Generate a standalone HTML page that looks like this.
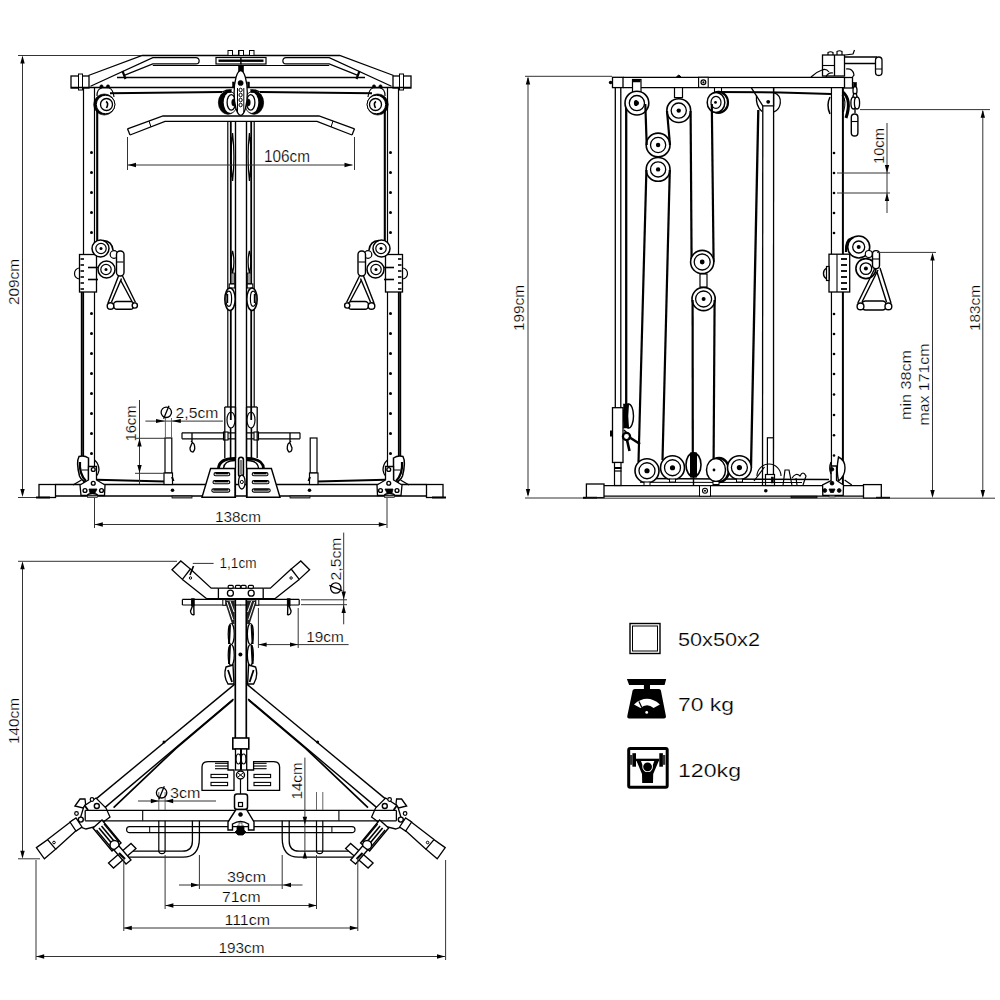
<!DOCTYPE html>
<html><head><meta charset="utf-8"><style>
html,body{margin:0;padding:0;background:#fff;}
svg{display:block;font-family:"Liberation Sans",sans-serif;}
</style></head><body>
<svg width="1000" height="1000" viewBox="0 0 1000 1000">
<rect x="0" y="0" width="1000" height="1000" fill="#fff"/>
<line x1="22.5" y1="57" x2="22.5" y2="495" stroke="#333" stroke-width="1" />
<polygon points="22.50,55.50 24.70,63.50 20.30,63.50" fill="#000"/>
<polygon points="22.50,497.00 20.30,489.00 24.70,489.00" fill="#000"/>
<line x1="18" y1="55.5" x2="142" y2="55.5" stroke="#333" stroke-width="1" />
<line x1="18" y1="497.5" x2="40" y2="497.5" stroke="#333" stroke-width="1" />
<text x="19" y="282" font-size="15.5" text-anchor="middle" fill="#000" stroke="#fff" stroke-width="0.22" textLength="46" lengthAdjust="spacingAndGlyphs" transform="rotate(-90 19 282)">209cm</text>
<g id="fh">
<rect x="71" y="76" width="18" height="12" rx="0" fill="#fff" stroke="#000" stroke-width="1.3"/>
<rect x="78.5" y="74" width="4" height="16" rx="0" fill="#fff" stroke="#000" stroke-width="1.0"/>
<line x1="117" y1="77.5" x2="241" y2="77.5" stroke="#000" stroke-width="1.3" />
<line x1="71" y1="87.5" x2="241" y2="87.5" stroke="#000" stroke-width="1.3" />
<path d="M88.4,75.5 L142.3,55.5 L241,55.5" fill="none" stroke="#000" stroke-width="1.3" />
<path d="M90.5,86.3 L152.8,57.6 L196,57.6 A3.15,3.15 0 0 1 196,63.9 L152.8,63.9 L124.8,75.1" fill="none" stroke="#000" stroke-width="1.2" />
<line x1="152.8" y1="65.5" x2="241" y2="65.5" stroke="#000" stroke-width="1.2" />
<line x1="122.5" y1="71" x2="125.5" y2="79" stroke="#000" stroke-width="2.2" />
<rect x="216" y="57.5" width="25" height="6.5" rx="0" fill="#fff" stroke="#000" stroke-width="1.2"/>
<line x1="218.5" y1="60.7" x2="241" y2="60.7" stroke="#000" stroke-width="2.4" />
<rect x="228" y="50.5" width="4.5" height="5" rx="0" fill="#fff" stroke="#000" stroke-width="1.0"/>
<rect x="238.5" y="50.5" width="4.5" height="5" rx="0" fill="#fff" stroke="#000" stroke-width="1.0"/>
<line x1="83.5" y1="88" x2="83.5" y2="485" stroke="#000" stroke-width="1.2" />
<line x1="94.5" y1="88" x2="94.5" y2="485" stroke="#000" stroke-width="1.2" />
<circle cx="91.5" cy="152.5" r="1.5" fill="#000"/>
<circle cx="91.5" cy="172.5" r="1.5" fill="#000"/>
<circle cx="91.5" cy="192.5" r="1.5" fill="#000"/>
<circle cx="91.5" cy="212.5" r="1.5" fill="#000"/>
<circle cx="91.5" cy="232.5" r="1.5" fill="#000"/>
<circle cx="91.5" cy="313.5" r="1.5" fill="#000"/>
<circle cx="91.5" cy="333.5" r="1.5" fill="#000"/>
<circle cx="91.5" cy="353.5" r="1.5" fill="#000"/>
<circle cx="91.5" cy="373.5" r="1.5" fill="#000"/>
<circle cx="91.5" cy="393.5" r="1.5" fill="#000"/>
<circle cx="91.5" cy="413.5" r="1.5" fill="#000"/>
<circle cx="91.5" cy="433.5" r="1.5" fill="#000"/>
<circle cx="91.5" cy="453.5" r="1.5" fill="#000"/>
<line x1="97.2" y1="104" x2="97.2" y2="255" stroke="#000" stroke-width="2.1" />
<line x1="81.8" y1="292" x2="81.8" y2="470" stroke="#000" stroke-width="2.0" />
<path d="M97,96 Q97,88.5 102,88 L109,88 Q113,89 114,97" fill="#fff" stroke="#000" stroke-width="1.2" />
<circle cx="101.5" cy="86.3" r="1.6" fill="#000" stroke="#000" stroke-width="0.5"/>
<circle cx="108" cy="86.3" r="1.6" fill="#000" stroke="#000" stroke-width="0.5"/>
<circle cx="104.3" cy="104.5" r="10.6" fill="#000" stroke="#000" stroke-width="0.6"/>
<circle cx="105.6" cy="104.5" r="9.3" fill="#fff" stroke="#000" stroke-width="0"/>
<circle cx="105.6" cy="104.5" r="9.3" fill="none" stroke="#000" stroke-width="1.0"/>
<circle cx="106.5" cy="104.5" r="6" fill="#fff" stroke="#000" stroke-width="1.3"/>
<path d="M106,101.5 Q109,103 106.5,108" fill="none" stroke="#000" stroke-width="1.6" />
<path d="M110,93.3 Q180,92.5 222,92" fill="none" stroke="#000" stroke-width="2.0" />
<rect x="79.5" y="254.5" width="17" height="37.5" rx="0" fill="#fff" stroke="#000" stroke-width="1.3"/>
<line x1="80.5" y1="259" x2="84" y2="259" stroke="#000" stroke-width="1.6" />
<line x1="80.5" y1="265" x2="84" y2="265" stroke="#000" stroke-width="1.6" />
<line x1="80.5" y1="271" x2="84" y2="271" stroke="#000" stroke-width="1.6" />
<line x1="80.5" y1="277" x2="84" y2="277" stroke="#000" stroke-width="1.6" />
<line x1="80.5" y1="283" x2="84" y2="283" stroke="#000" stroke-width="1.6" />
<line x1="80.5" y1="289" x2="84" y2="289" stroke="#000" stroke-width="1.6" />
<path d="M79.5,268 A5,5.5 0 0 0 79.5,279" fill="none" stroke="#000" stroke-width="1.2" />
<line x1="88" y1="267.5" x2="98" y2="267.5" stroke="#000" stroke-width="1.6" />
<line x1="88" y1="279.5" x2="98" y2="279.5" stroke="#000" stroke-width="1.6" />
<circle cx="100.5" cy="248.5" r="8.5" fill="#fff" stroke="#000" stroke-width="1.5"/>
<circle cx="101" cy="248.5" r="5.2" fill="#fff" stroke="#000" stroke-width="1.2"/>
<circle cx="101" cy="248.5" r="1.5" fill="#000"/>
<path d="M103,240.5 Q112,241 113,250" fill="none" stroke="#000" stroke-width="1.6" />
<circle cx="106.5" cy="269.5" r="8.5" fill="#fff" stroke="#000" stroke-width="1.5"/>
<circle cx="106" cy="269.5" r="5.2" fill="#fff" stroke="#000" stroke-width="1.2"/>
<circle cx="106" cy="269.5" r="1.5" fill="#000"/>
<circle cx="114" cy="254.5" r="3.8" fill="#fff" stroke="#000" stroke-width="1.2"/>
<rect x="116.5" y="251" width="7.5" height="25" rx="3.5" fill="#fff" stroke="#000" stroke-width="1.4"/>
<line x1="117" y1="262" x2="123.5" y2="262" stroke="#000" stroke-width="1.1" />
<path d="M118.5,276 L108,303 M121.5,278.5 L111.5,302" fill="none" stroke="#000" stroke-width="1.4" />
<path d="M122.5,276 L135.5,302.5 M120.5,280 L132,301.5" fill="none" stroke="#000" stroke-width="1.4" />
<rect x="113.5" y="301.5" width="20.5" height="7.8" rx="3.5" fill="#fff" stroke="#000" stroke-width="1.4"/>
<circle cx="110.5" cy="306" r="3.3" fill="#fff" stroke="#000" stroke-width="1.4"/>
<circle cx="134.8" cy="305.5" r="2.6" fill="#fff" stroke="#000" stroke-width="1.4"/>
<rect x="39" y="484.5" width="16.5" height="13" rx="0" fill="#fff" stroke="#000" stroke-width="1.3"/>
<line x1="36" y1="497.5" x2="50" y2="497.5" stroke="#000" stroke-width="2.0" />
<line x1="55.5" y1="484.5" x2="241" y2="484.5" stroke="#000" stroke-width="1.3" />
<line x1="55.5" y1="496" x2="241" y2="496" stroke="#000" stroke-width="1.3" />
<path d="M79,456.5 Q76,462 79.5,476 Q82,482 88.5,482.5 L88.5,458 Q84,455 79,456.5 Z" fill="#fff" stroke="#000" stroke-width="1.5" />
<path d="M80,462 Q79,474 86,481" fill="none" stroke="#000" stroke-width="2.2" />
<path d="M94.5,460 Q99,464 99,470 Q98,476 94.5,477" fill="none" stroke="#000" stroke-width="1.3" />
<line x1="81.5" y1="470" x2="88" y2="470" stroke="#000" stroke-width="1.0" />
<path d="M73,485 L81.5,480" fill="none" stroke="#000" stroke-width="1.3" />
<line x1="96.5" y1="479.7" x2="165" y2="481.5" stroke="#000" stroke-width="2.0" />
<path d="M88.5,466.5 L96.5,466.5 L96.5,480 L105,485 L104.5,495.5 L98,495.5 Q96.5,493.5 92.5,493.5 Q88.5,493.5 87,495.5 L81,495.5 L80,485 L88.5,480 Z" fill="#fff" stroke="#000" stroke-width="1.3" />
<circle cx="93.25" cy="469.5" r="1.9" fill="#fff" stroke="#000" stroke-width="1.4"/>
<circle cx="93.25" cy="483.25" r="1.9" fill="#fff" stroke="#000" stroke-width="1.4"/>
<circle cx="85" cy="490.5" r="1.9" fill="#fff" stroke="#000" stroke-width="1.4"/>
<circle cx="101.5" cy="490.5" r="1.9" fill="#fff" stroke="#000" stroke-width="1.4"/>
<path d="M89,489 L97,489 L95,493 L90,493 Z" fill="#000" stroke="#000" stroke-width="0.8" />
<rect x="87.5" y="495.5" width="10" height="2" rx="0" fill="#999" stroke="#000" stroke-width="0.6"/>
<rect x="165" y="438" width="6.8" height="35" rx="0" fill="#fff" stroke="#000" stroke-width="1.2"/>
<rect x="164" y="473" width="8.5" height="11.5" rx="0" fill="#fff" stroke="#000" stroke-width="1.2"/>
<line x1="172" y1="477" x2="173.5" y2="481" stroke="#000" stroke-width="2" />
<circle cx="172.5" cy="490.3" r="1.8" fill="#000"/>
<rect x="172" y="496" width="20" height="2" rx="0" fill="#888" stroke="#000" stroke-width="0.8"/>
<line x1="182" y1="432.8" x2="236" y2="432.8" stroke="#000" stroke-width="1.2" />
<line x1="182" y1="438.8" x2="236" y2="438.8" stroke="#000" stroke-width="1.2" />
<line x1="182" y1="432.8" x2="182" y2="438.8" stroke="#000" stroke-width="1.2" />
<rect x="223.5" y="432" width="4.5" height="8" rx="0" fill="#fff" stroke="#000" stroke-width="1.1"/>
<path d="M192,433 L192,442 M191,441 L194,444 Q196,449 193,452 Q190,452 190,448 L192,443" fill="none" stroke="#000" stroke-width="1.3" />
<path d="M218.5,468.5 Q219,458.5 235,458.5" fill="none" stroke="#000" stroke-width="2.8" />
<path d="M223.5,468.5 Q224,460.5 235,460.5" fill="none" stroke="#000" stroke-width="1.3" />
<line x1="230.6" y1="420" x2="230.6" y2="460" stroke="#000" stroke-width="1.6" />
<path d="M202,497.3 L210.6,468.5 L235,468.5 L235,497.3 Z" fill="#fff" stroke="#000" stroke-width="1.4" />
<rect x="214" y="472.59999999999997" width="15.800000000000011" height="3.2" rx="1.6" fill="#fff" stroke="#000" stroke-width="1.1"/>
<line x1="215.5" y1="473.59999999999997" x2="228.3" y2="473.59999999999997" stroke="#000" stroke-width="1.5" />
<rect x="213" y="480.59999999999997" width="16.80000000000001" height="3.2" rx="1.6" fill="#fff" stroke="#000" stroke-width="1.1"/>
<line x1="214.5" y1="481.59999999999997" x2="228.3" y2="481.59999999999997" stroke="#000" stroke-width="1.5" />
<rect x="211.8" y="488.9" width="18.0" height="3.2" rx="1.6" fill="#fff" stroke="#000" stroke-width="1.1"/>
<line x1="213.3" y1="489.9" x2="228.3" y2="489.9" stroke="#000" stroke-width="1.5" />
<line x1="224.8" y1="407" x2="224.8" y2="458" stroke="#000" stroke-width="1.3" />
<line x1="235.5" y1="407" x2="235.5" y2="458" stroke="#000" stroke-width="1.3" />
<line x1="224.8" y1="407" x2="235.5" y2="407" stroke="#000" stroke-width="1.3" />
<ellipse cx="231" cy="420" rx="4" ry="8" fill="#fff" stroke="#000" stroke-width="1.2"/>
<line x1="227.8" y1="121" x2="227.8" y2="407" stroke="#000" stroke-width="1.2" />
<line x1="230.8" y1="121" x2="230.8" y2="420" stroke="#000" stroke-width="1.8" />
<line x1="235.5" y1="121" x2="235.5" y2="468" stroke="#000" stroke-width="1.2" />
<path d="M232.6,133 Q229.6,157.0 232.6,181 Q235.2,157.0 232.6,133 Z" fill="#fff" stroke="#000" stroke-width="1.2" />
<line x1="231" y1="137" x2="231" y2="177" stroke="#000" stroke-width="1.6" />
<path d="M232.6,251 Q229.6,262.0 232.6,273 Q235.2,262.0 232.6,251 Z" fill="#fff" stroke="#000" stroke-width="1.2" />
<line x1="231" y1="255" x2="231" y2="269" stroke="#000" stroke-width="1.6" />
<rect x="231" y="273" width="3.5" height="10.5" rx="0" fill="#999" stroke="#000" stroke-width="0.8"/>
<rect x="229.2" y="284" width="5.6" height="4" rx="0" fill="#fff" stroke="#000" stroke-width="1.1"/>
<ellipse cx="230" cy="299.2" rx="5.2" ry="11.2" fill="#fff" stroke="#000" stroke-width="1.5"/>
<ellipse cx="228.8" cy="298.8" rx="2.8" ry="7.6" fill="#fff" stroke="#000" stroke-width="1.2"/>
<line x1="227.6" y1="294" x2="227.6" y2="303" stroke="#000" stroke-width="1.2" />
<path d="M127.5,128.8 L163,116 L241,116" fill="none" stroke="#000" stroke-width="1.3" />
<path d="M130,135 L165,121.3 L241,121.3" fill="none" stroke="#000" stroke-width="1.3" />
<line x1="127.5" y1="128.8" x2="130" y2="135" stroke="#000" stroke-width="1.3" />
<line x1="149" y1="121" x2="151" y2="127" stroke="#000" stroke-width="1.0" />
<line x1="127.5" y1="137" x2="127.5" y2="170" stroke="#333" stroke-width="1" />
<ellipse cx="228" cy="102.6" rx="9.6" ry="11.7" fill="#000" stroke="#000" stroke-width="0.8"/>
<ellipse cx="230.3" cy="102.6" rx="6.6" ry="10.3" fill="#fff" stroke="none" stroke-width="0"/>
<ellipse cx="231.3" cy="102.4" rx="4.2" ry="7.8" fill="#fff" stroke="#000" stroke-width="1.3"/>
<ellipse cx="233.6" cy="102.5" rx="1.9" ry="3.5" fill="#000" stroke="#000" stroke-width="0.5"/>
<rect x="226" y="90" width="5" height="2.6" rx="0" fill="#000" stroke="#000" stroke-width="0.5"/>
<rect x="232.5" y="82" width="2" height="5" rx="0" fill="#000" stroke="#000" stroke-width="0.5"/>
<path d="M222,92 Q228,89 232,90" fill="none" stroke="#000" stroke-width="1.2" />
</g>
<use href="#fh" transform="translate(482,0) scale(-1,1)"/>
<rect x="238.4" y="65.5" width="5.2" height="10.5" rx="0" fill="#000" stroke="#000" stroke-width="0.5"/>
<ellipse cx="240.7" cy="93" rx="6.6" ry="22.3" fill="#fff" stroke="#000" stroke-width="1.3"/>
<circle cx="240.6" cy="83" r="2.6" fill="#000" stroke="#000" stroke-width="0.6"/>
<path d="M237.5,88 L237.5,112 M243.8,88 L243.8,112" fill="none" stroke="#000" stroke-width="1.0" />
<ellipse cx="240.6" cy="90" rx="1.6" ry="1.8" fill="#fff" stroke="#000" stroke-width="1.0"/>
<ellipse cx="240.6" cy="95" rx="1.6" ry="1.8" fill="#fff" stroke="#000" stroke-width="1.0"/>
<ellipse cx="240.6" cy="100" rx="1.6" ry="1.8" fill="#fff" stroke="#000" stroke-width="1.0"/>
<ellipse cx="240.6" cy="105" rx="1.6" ry="1.8" fill="#fff" stroke="#000" stroke-width="1.0"/>
<line x1="128" y1="165" x2="352.5" y2="165" stroke="#333" stroke-width="1" />
<polygon points="128.00,165.00 136.00,162.80 136.00,167.20" fill="#000"/>
<polygon points="352.50,165.00 344.50,167.20 344.50,162.80" fill="#000"/>
<text x="287" y="162" font-size="16" text-anchor="middle" fill="#000" stroke="#fff" stroke-width="0.22" textLength="46" lengthAdjust="spacingAndGlyphs">106cm</text>
<line x1="94.5" y1="498" x2="94.5" y2="528" stroke="#333" stroke-width="1" />
<line x1="387" y1="498" x2="387" y2="528" stroke="#333" stroke-width="1" />
<line x1="95" y1="524.5" x2="386.5" y2="524.5" stroke="#333" stroke-width="1" />
<polygon points="94.80,524.50 102.80,522.30 102.80,526.70" fill="#000"/>
<polygon points="386.80,524.50 378.80,526.70 378.80,522.30" fill="#000"/>
<text x="238" y="522" font-size="15.5" text-anchor="middle" fill="#000" stroke="#fff" stroke-width="0.22" textLength="46" lengthAdjust="spacingAndGlyphs">138cm</text>
<line x1="139.5" y1="400" x2="139.5" y2="484" stroke="#333" stroke-width="1" />
<polygon points="139.50,438.50 141.70,446.50 137.30,446.50" fill="#000"/>
<polygon points="139.50,473.00 137.30,465.00 141.70,465.00" fill="#000"/>
<line x1="135" y1="438.3" x2="165" y2="438.3" stroke="#333" stroke-width="1" />
<line x1="135" y1="473.3" x2="165" y2="473.3" stroke="#333" stroke-width="1" />
<text x="136" y="423.5" font-size="15.5" text-anchor="middle" fill="#000" stroke="#fff" stroke-width="0.22" textLength="36" lengthAdjust="spacingAndGlyphs" transform="rotate(-90 136 423.5)">16cm</text>
<line x1="145.4" y1="421.1" x2="222.9" y2="421.1" stroke="#333" stroke-width="1" />
<polygon points="165.00,421.10 156.00,423.10 156.00,419.10" fill="#000"/>
<polygon points="171.80,421.10 180.80,419.10 180.80,423.10" fill="#000"/>
<line x1="165.4" y1="418" x2="165.4" y2="438" stroke="#555" stroke-width="0.9" />
<line x1="171.5" y1="418" x2="171.5" y2="438" stroke="#555" stroke-width="0.9" />
<g><circle cx="166.3" cy="412.3" r="5.2" fill="none" stroke="#000" stroke-width="1.3"/><line x1="163.60000000000002" y1="418.8" x2="169.0" y2="405.8" stroke="#000" stroke-width="1.3"/></g>
<text x="175.6" y="417.5" font-size="15.5" text-anchor="start" fill="#000" stroke="#fff" stroke-width="0.22" textLength="42.8" lengthAdjust="spacingAndGlyphs">2,5cm</text>
<line x1="235.5" y1="122" x2="235.5" y2="498" stroke="#000" stroke-width="1.2" />
<line x1="246.5" y1="122" x2="246.5" y2="498" stroke="#000" stroke-width="1.2" />
<rect x="238.6" y="457.2" width="4.8" height="19.5" rx="2.4" fill="#fff" stroke="#000" stroke-width="1.6"/>
<line x1="241" y1="460" x2="241" y2="474" stroke="#000" stroke-width="1.0" />
<ellipse cx="241.8" cy="482" rx="3.3" ry="7" fill="#fff" stroke="#000" stroke-width="1.3"/>
<circle cx="241.8" cy="482" r="1.6" fill="#fff" stroke="#000" stroke-width="1.0"/>
<line x1="528" y1="78" x2="528" y2="495" stroke="#333" stroke-width="1" />
<polygon points="528.00,76.50 530.20,84.50 525.80,84.50" fill="#000"/>
<polygon points="528.00,497.00 525.80,489.00 530.20,489.00" fill="#000"/>
<line x1="525" y1="76.3" x2="612" y2="76.3" stroke="#333" stroke-width="1" />
<line x1="525" y1="498" x2="586" y2="498" stroke="#333" stroke-width="1" />
<text x="524" y="308" font-size="15.5" text-anchor="middle" fill="#000" stroke="#fff" stroke-width="0.22" textLength="46" lengthAdjust="spacingAndGlyphs" transform="rotate(-90 524 308)">199cm</text>
<rect x="612.5" y="77.3" width="10.5" height="10.3" rx="0" fill="#fff" stroke="#000" stroke-width="1.3"/>
<line x1="623" y1="77.3" x2="844.5" y2="77.3" stroke="#000" stroke-width="1.3" />
<line x1="623" y1="87.6" x2="844.5" y2="87.6" stroke="#000" stroke-width="1.3" />
<rect x="844.5" y="77.5" width="8" height="10.5" rx="0" fill="#fff" stroke="#000" stroke-width="1.3"/>
<circle cx="610.6" cy="82.5" r="1.8" fill="#000"/>
<rect x="698.6" y="77.3" width="9.6" height="10.1" rx="0" fill="#fff" stroke="#000" stroke-width="1.1"/>
<circle cx="703.4" cy="82.3" r="2.4" fill="#fff" stroke="#000" stroke-width="1.2"/>
<circle cx="703.4" cy="82.3" r="1.1" fill="#000"/>
<path d="M676.5,77.3 Q678.75,73 681,77.3 Z" fill="#000" stroke="#000" stroke-width="1.0" />
<line x1="615.3" y1="87.6" x2="615.3" y2="408" stroke="#000" stroke-width="1.3" />
<line x1="620.8" y1="87.6" x2="620.8" y2="408" stroke="#000" stroke-width="1.3" />
<line x1="626.2" y1="104" x2="626.2" y2="405" stroke="#000" stroke-width="2.3" />
<rect x="612.5" y="407.7" width="10.5" height="54.8" rx="0" fill="#fff" stroke="#000" stroke-width="1.3"/>
<rect x="614.5" y="462.5" width="6.5" height="23" rx="0" fill="#fff" stroke="#000" stroke-width="1.2"/>
<line x1="614" y1="468" x2="621.5" y2="468" stroke="#000" stroke-width="2.0" />
<line x1="614" y1="471" x2="621.5" y2="471" stroke="#000" stroke-width="1.2" />
<rect x="610.5" y="431" width="2" height="5" rx="0" fill="#000" stroke="#000" stroke-width="1"/>
<rect x="632.5" y="79.5" width="8.5" height="13" rx="0" fill="#fff" stroke="#000" stroke-width="1.2"/>
<path d="M633,81 L640.5,81" fill="none" stroke="#000" stroke-width="2.5" />
<circle cx="636.9" cy="103.1" r="11.9" fill="#fff" stroke="#000" stroke-width="1.6"/>
<circle cx="636.9" cy="103.1" r="7.6" fill="#fff" stroke="#000" stroke-width="1.3"/>
<circle cx="636.9" cy="103.1" r="2.2" fill="#000"/>
<ellipse cx="636" cy="103" rx="1.5" ry="2.5" fill="#000" stroke="#000" stroke-width="1.2"/>
<rect x="674.5" y="87.6" width="8" height="10" rx="0" fill="#fff" stroke="#000" stroke-width="1.2"/>
<circle cx="678.75" cy="110.6" r="11.9" fill="#fff" stroke="#000" stroke-width="1.6"/>
<circle cx="678.75" cy="110.6" r="7.6" fill="#fff" stroke="#000" stroke-width="1.3"/>
<circle cx="678.75" cy="110.6" r="2.2" fill="#000"/>
<circle cx="658.1" cy="145" r="11.9" fill="#fff" stroke="#000" stroke-width="1.6"/>
<circle cx="658.1" cy="145" r="7.6" fill="#fff" stroke="#000" stroke-width="1.3"/>
<circle cx="658.1" cy="145" r="2.2" fill="#000"/>
<circle cx="658.1" cy="169.4" r="11.9" fill="#fff" stroke="#000" stroke-width="1.6"/>
<circle cx="658.1" cy="169.4" r="7.6" fill="#fff" stroke="#000" stroke-width="1.3"/>
<circle cx="658.1" cy="169.4" r="2.2" fill="#000"/>
<rect x="714.5" y="87.6" width="7" height="5" rx="0" fill="#fff" stroke="#000" stroke-width="1.1"/>
<ellipse cx="718.5" cy="102.4" rx="9.5" ry="10.5" fill="#fff" stroke="#000" stroke-width="2.2"/>
<ellipse cx="716" cy="102.4" rx="8.8" ry="10" fill="#fff" stroke="#000" stroke-width="1.5"/>
<ellipse cx="716" cy="102.4" rx="5" ry="6" fill="#fff" stroke="#000" stroke-width="1.2"/>
<circle cx="715.5" cy="102.4" r="1.4" fill="#000"/>
<path d="M716,92 Q780,92 831,94" fill="none" stroke="#000" stroke-width="2.0" />
<path d="M645.3,104 L646.7,145" fill="none" stroke="#000" stroke-width="2.2" />
<path d="M670,145 L667,111" fill="none" stroke="#000" stroke-width="2.2" />
<path d="M690.6,111 L691.6,262" fill="none" stroke="#000" stroke-width="2.2" />
<path d="M646.4,170 L638.5,462" fill="none" stroke="#000" stroke-width="2.2" />
<path d="M669.8,170 L662.5,460" fill="none" stroke="#000" stroke-width="2.2" />
<path d="M711.8,104 L713.6,262" fill="none" stroke="#000" stroke-width="2.2" />
<circle cx="702.2" cy="262" r="11.6" fill="#fff" stroke="#000" stroke-width="1.6"/>
<circle cx="702.2" cy="262" r="8" fill="#fff" stroke="#000" stroke-width="1.3"/>
<circle cx="702.2" cy="262" r="2.4" fill="#000"/>
<circle cx="703.6" cy="299" r="11.6" fill="#fff" stroke="#000" stroke-width="1.6"/>
<circle cx="703.6" cy="299" r="8" fill="#fff" stroke="#000" stroke-width="1.3"/>
<circle cx="703.6" cy="299" r="2.0" fill="#000"/>
<rect x="700" y="274" width="7" height="13" rx="0" fill="#fff" stroke="#000" stroke-width="1.2"/>
<path d="M692.6,300 L692.8,455" fill="none" stroke="#000" stroke-width="2.2" />
<path d="M714.6,300 L713.6,460" fill="none" stroke="#000" stroke-width="2.2" />
<path d="M751.4,87.8 L762.8,105.8 L773.6,105.8 L773.6,88" fill="none" stroke="#000" stroke-width="1.3" />
<path d="M756.5,95.5 Q755.5,106 762,111.5" fill="none" stroke="#000" stroke-width="1.3" />
<path d="M774,92.6 Q781,95 780.3,103 Q779.5,110 774,111.8" fill="none" stroke="#000" stroke-width="1.3" />
<circle cx="768.2" cy="101.8" r="1.9" fill="#000"/>
<line x1="762.8" y1="105.8" x2="762.5" y2="485.7" stroke="#000" stroke-width="1.3" />
<line x1="773.6" y1="88" x2="773.5" y2="485.7" stroke="#000" stroke-width="1.3" />
<path d="M758.3,110 L751,468" fill="none" stroke="#000" stroke-width="2.3" />
<rect x="767.4" y="437.8" width="6" height="37" rx="0" fill="#fff" stroke="#000" stroke-width="1.2"/>
<rect x="765.5" y="474.5" width="9" height="11" rx="0" fill="#fff" stroke="#000" stroke-width="1.2"/>
<path d="M757,476 A12,12 0 0 1 781,476" fill="none" stroke="#000" stroke-width="1.1" />
<path d="M783,485.5 L785,470 L789,470 L792,485.5 M792,478 Q796,472 800,476 Q803,470 806,476 L803,485 M797,485 L796,478" fill="none" stroke="#000" stroke-width="1.2" />
<rect x="771.2" y="477" width="2.2" height="6" rx="0" fill="#000" stroke="#000" stroke-width="0.5"/>
<line x1="831.45" y1="88" x2="831.45" y2="485.7" stroke="#000" stroke-width="1.2" />
<line x1="842.9" y1="88" x2="842.9" y2="485.7" stroke="#000" stroke-width="2.0" />
<circle cx="834" cy="153" r="1.3" fill="#000"/>
<circle cx="834" cy="173" r="1.3" fill="#000"/>
<circle cx="834" cy="193" r="1.3" fill="#000"/>
<circle cx="834" cy="213" r="1.3" fill="#000"/>
<circle cx="834" cy="233" r="1.3" fill="#000"/>
<circle cx="834" cy="314" r="1.3" fill="#000"/>
<circle cx="834" cy="334" r="1.3" fill="#000"/>
<circle cx="834" cy="354" r="1.3" fill="#000"/>
<circle cx="834" cy="374" r="1.3" fill="#000"/>
<circle cx="834" cy="394.5" r="1.3" fill="#000"/>
<circle cx="834" cy="415" r="1.3" fill="#000"/>
<circle cx="834" cy="435.3" r="1.3" fill="#000"/>
<circle cx="834" cy="455.5" r="1.3" fill="#000"/>
<path d="M830,97 Q826,105 830,114" fill="none" stroke="#000" stroke-width="1.5" />
<path d="M843,92 Q852,100 846,118" fill="none" stroke="#000" stroke-width="3.0" />
<path d="M842,95 Q847,100 843.5,112" fill="none" stroke="#000" stroke-width="1.1" />
<rect x="822.5" y="55" width="22" height="21" rx="0" fill="#fff" stroke="#000" stroke-width="1.3"/>
<line x1="834.5" y1="55" x2="834.5" y2="76" stroke="#000" stroke-width="1.3" />
<line x1="822.5" y1="65.5" x2="834.5" y2="65.5" stroke="#000" stroke-width="1.1" />
<path d="M828,55 L828,52.5 Q830.5,51 833,52.5 L833,55 M837,55 L837,51.5 Q839.5,50 842,51.5 L842,55" fill="none" stroke="#000" stroke-width="1.2" />
<path d="M844.5,57 L877,57 M844.5,63.5 L876,63.5" fill="none" stroke="#000" stroke-width="1.3" />
<rect x="875.5" y="57" width="6.5" height="18.5" rx="3.2" fill="#fff" stroke="#000" stroke-width="1.3"/>
<line x1="875.5" y1="69" x2="882" y2="69" stroke="#000" stroke-width="1.0" />
<path d="M845,55 L853,54 L854.5,50" fill="none" stroke="#000" stroke-width="1.2" />
<path d="M811,77 Q816,72 822,70 Q826,68 829,72 M826,77 Q828,72 833,73" fill="none" stroke="#000" stroke-width="1.2" />
<path d="M846,69 Q853,68 854,75 L852.5,77" fill="none" stroke="#000" stroke-width="1.2" />
<rect x="853.5" y="82.5" width="3" height="4" rx="0" fill="#000" stroke="#000" stroke-width="0.6"/>
<ellipse cx="855" cy="90.5" rx="2" ry="4" fill="#fff" stroke="#000" stroke-width="1.3"/>
<ellipse cx="855" cy="97.5" rx="2" ry="4" fill="#fff" stroke="#000" stroke-width="1.3"/>
<ellipse cx="853.5" cy="103" rx="2.6" ry="6" fill="#fff" stroke="#000" stroke-width="1.3"/>
<ellipse cx="857" cy="103" rx="2.6" ry="6" fill="#fff" stroke="#000" stroke-width="1.3"/>
<path d="M855,109 L855,113" fill="none" stroke="#000" stroke-width="1.4" />
<rect x="851.3" y="114" width="6.6" height="22" rx="3.3" fill="#fff" stroke="#000" stroke-width="1.4"/>
<line x1="851.3" y1="121.5" x2="857.9" y2="121.5" stroke="#000" stroke-width="1.1" />
<rect x="829" y="254.2" width="20.7" height="37.8" rx="0" fill="#fff" stroke="#000" stroke-width="1.3"/>
<line x1="841" y1="259" x2="847" y2="259" stroke="#000" stroke-width="1.8" />
<line x1="841" y1="265" x2="847" y2="265" stroke="#000" stroke-width="1.8" />
<line x1="841" y1="271" x2="847" y2="271" stroke="#000" stroke-width="1.8" />
<line x1="841" y1="277" x2="847" y2="277" stroke="#000" stroke-width="1.8" />
<line x1="841" y1="283" x2="847" y2="283" stroke="#000" stroke-width="1.8" />
<line x1="841" y1="289" x2="847" y2="289" stroke="#000" stroke-width="1.8" />
<line x1="837" y1="254.2" x2="837" y2="292" stroke="#000" stroke-width="1.1" />
<path d="M829,268.5 L826,268.5 Q823.5,270 823.5,273.5 Q823.5,277 826,278.5 L829,278.5 Z" fill="#fff" stroke="#000" stroke-width="1.4" />
<rect x="826.5" y="266.5" width="2.5" height="14" rx="0" fill="#fff" stroke="#000" stroke-width="1.2"/>
<circle cx="858.7" cy="247" r="11" fill="#fff" stroke="#000" stroke-width="1.6"/>
<circle cx="858.7" cy="247" r="6" fill="#fff" stroke="#000" stroke-width="1.3"/>
<circle cx="858.7" cy="247" r="2.0" fill="#000"/>
<path d="M853,237.5 Q845,240 846,252" fill="none" stroke="#000" stroke-width="2.2" />
<circle cx="865.9" cy="268.6" r="10" fill="#fff" stroke="#000" stroke-width="1.6"/>
<circle cx="865.9" cy="268.6" r="5.8" fill="#fff" stroke="#000" stroke-width="1.3"/>
<circle cx="865.9" cy="268.6" r="2.0" fill="#000"/>
<circle cx="868.8" cy="254" r="3.5" fill="#fff" stroke="#000" stroke-width="1.1"/>
<rect x="872.5" y="250.6" width="7" height="18" rx="3.3" fill="#fff" stroke="#000" stroke-width="1.4"/>
<line x1="873" y1="259" x2="879" y2="259" stroke="#000" stroke-width="1.1" />
<path d="M875,268 L857.8,303 M878,270 L862,302" fill="none" stroke="#000" stroke-width="1.4" />
<path d="M880,268 L891,303 M877,272 L886.5,302" fill="none" stroke="#000" stroke-width="1.4" />
<rect x="862" y="301" width="24" height="9" rx="3.5" fill="#fff" stroke="#000" stroke-width="1.4"/>
<circle cx="860.5" cy="306.4" r="3.4" fill="#fff" stroke="#000" stroke-width="1.4"/>
<circle cx="888.4" cy="306.4" r="3.4" fill="#fff" stroke="#000" stroke-width="1.4"/>
<rect x="586.4" y="484" width="17.6" height="13.6" rx="0" fill="#fff" stroke="#000" stroke-width="1.3"/>
<line x1="583" y1="497.8" x2="597" y2="497.8" stroke="#000" stroke-width="2" />
<line x1="604" y1="485.7" x2="863.5" y2="485.7" stroke="#000" stroke-width="1.3" />
<line x1="604" y1="496.2" x2="863.5" y2="496.2" stroke="#000" stroke-width="1.3" />
<rect x="863.5" y="484.6" width="17.8" height="13.6" rx="0" fill="#fff" stroke="#000" stroke-width="1.3"/>
<line x1="876" y1="497.8" x2="890" y2="497.8" stroke="#000" stroke-width="2" />
<line x1="586" y1="498.2" x2="995" y2="498.2" stroke="#333" stroke-width="1" />
<line x1="640" y1="478.6" x2="829" y2="479.6" stroke="#000" stroke-width="1.5" />
<line x1="640" y1="482.3" x2="802" y2="482.5" stroke="#000" stroke-width="1.0" />
<path d="M754,481 L764.5,467" fill="none" stroke="#000" stroke-width="1.2" />
<rect x="699.5" y="485.7" width="11" height="10.5" rx="0" fill="#fff" stroke="#000" stroke-width="1.0"/>
<circle cx="705" cy="490.8" r="2.5" fill="#fff" stroke="#000" stroke-width="1.1"/>
<circle cx="705" cy="490.8" r="1" fill="#000"/>
<circle cx="765.8" cy="490.8" r="1.8" fill="#000"/>
<rect x="791" y="496.2" width="26" height="1.6" rx="0" fill="#333" stroke="#000" stroke-width="0.8"/>
<path d="M838.5,457 Q836,470 838.5,481 Q845,476 845,468 Q845,460 838.5,457 Z" fill="#fff" stroke="#000" stroke-width="1.4" />
<path d="M831.1,466 L836.5,466 L836.5,480.5 L843.5,485 L843.2,495.4 L822.8,495.4 L822.6,485 L831.1,480.5 Z" fill="#fff" stroke="#000" stroke-width="1.3" />
<circle cx="832" cy="469.3" r="1.8" fill="#000" stroke="#000" stroke-width="0.8"/>
<circle cx="824.8" cy="490.5" r="1.9" fill="#000" stroke="#000" stroke-width="0.8"/>
<circle cx="839.2" cy="490.5" r="1.9" fill="#000" stroke="#000" stroke-width="0.8"/>
<circle cx="832" cy="483.2" r="1.9" fill="#000" stroke="#000" stroke-width="0.8"/>
<path d="M829,489 L835,489 L833.5,492.5 L830.5,492.5 Z" fill="#000" stroke="#000" stroke-width="0.8" />
<rect x="829" y="495.4" width="6" height="1.6" rx="0" fill="#999" stroke="#000" stroke-width="0.5"/>
<path d="M844.6,480 L851.8,485" fill="none" stroke="#000" stroke-width="1.3" />
<path d="M831,462 Q828.5,468 831,474" fill="none" stroke="#000" stroke-width="1.3" />
<circle cx="647" cy="470.75" r="12" fill="#fff" stroke="#000" stroke-width="1.6"/>
<circle cx="647" cy="470.75" r="8" fill="#fff" stroke="#000" stroke-width="1.3"/>
<circle cx="647" cy="470.75" r="2.6" fill="#000"/>
<rect x="644" y="482" width="6" height="3.5" rx="0" fill="#fff" stroke="#000" stroke-width="1.0"/>
<circle cx="672.5" cy="467.75" r="12" fill="#fff" stroke="#000" stroke-width="1.6"/>
<circle cx="672.5" cy="467.75" r="8" fill="#fff" stroke="#000" stroke-width="1.3"/>
<circle cx="672.5" cy="467.75" r="2.6" fill="#000"/>
<rect x="669.5" y="479" width="6" height="3" rx="0" fill="#fff" stroke="#000" stroke-width="1.0"/>
<ellipse cx="693.5" cy="464.75" rx="7.5" ry="12" fill="#fff" stroke="#000" stroke-width="1.6"/>
<rect x="690.5" y="453" width="6" height="24" rx="0" fill="#000" stroke="#000" stroke-width="1"/>
<line x1="693.5" y1="477" x2="693.5" y2="485.7" stroke="#000" stroke-width="1.4" />
<ellipse cx="719" cy="470" rx="10" ry="12" fill="#fff" stroke="#000" stroke-width="2.5"/>
<ellipse cx="716" cy="470" rx="9.5" ry="11.5" fill="#fff" stroke="#000" stroke-width="1.5"/>
<circle cx="714" cy="470" r="1.4" fill="#000"/>
<rect x="713" y="481.5" width="6" height="3" rx="0" fill="#fff" stroke="#000" stroke-width="1.0"/>
<circle cx="739.4" cy="467.6" r="11.9" fill="#fff" stroke="#000" stroke-width="1.6"/>
<circle cx="739.4" cy="467.6" r="8" fill="#fff" stroke="#000" stroke-width="1.3"/>
<circle cx="739.4" cy="467.6" r="2.6" fill="#000"/>
<rect x="736.5" y="479" width="6" height="3" rx="0" fill="#fff" stroke="#000" stroke-width="1.0"/>
<ellipse cx="628.6" cy="416" rx="4.9" ry="12" fill="#fff" stroke="#000" stroke-width="1.4"/>
<path d="M628.5,404 Q623.7,405 623.7,416 Q623.7,427 628.5,428 Q626.5,416 628.5,404 Z" fill="#000" stroke="#000" stroke-width="1.0" />
<rect x="623.5" y="404" width="4.5" height="24" rx="0" fill="#000" stroke="#000" stroke-width="0.5"/>
<circle cx="626.5" cy="436.5" r="3.6" fill="#fff" stroke="#000" stroke-width="2.3"/>
<path d="M629,437 L640,444 M627,440 L629.5,451" fill="none" stroke="#000" stroke-width="2.6" />
<path d="M624,430 L627,433" fill="none" stroke="#000" stroke-width="1.5" />
<line x1="887" y1="123" x2="887" y2="213" stroke="#333" stroke-width="1" />
<polygon points="887.00,173.00 884.80,165.00 889.20,165.00" fill="#000"/>
<polygon points="887.00,193.00 889.20,201.00 884.80,201.00" fill="#000"/>
<line x1="837" y1="173" x2="890" y2="173" stroke="#333" stroke-width="1" />
<line x1="837" y1="193" x2="890" y2="193" stroke="#333" stroke-width="1" />
<text x="884" y="146" font-size="15.5" text-anchor="middle" fill="#000" stroke="#fff" stroke-width="0.22" textLength="36" lengthAdjust="spacingAndGlyphs" transform="rotate(-90 884 146)">10cm</text>
<line x1="982.8" y1="111" x2="982.8" y2="496" stroke="#333" stroke-width="1" />
<polygon points="982.80,109.80 985.00,117.80 980.60,117.80" fill="#000"/>
<polygon points="982.80,498.00 980.60,490.00 985.00,490.00" fill="#000"/>
<line x1="860" y1="109.6" x2="990" y2="109.6" stroke="#333" stroke-width="1" />
<text x="980" y="308" font-size="15.5" text-anchor="middle" fill="#000" stroke="#fff" stroke-width="0.22" textLength="46" lengthAdjust="spacingAndGlyphs" transform="rotate(-90 980 308)">183cm</text>
<line x1="932.5" y1="254" x2="932.5" y2="496" stroke="#333" stroke-width="1" />
<polygon points="932.50,252.50 934.70,260.50 930.30,260.50" fill="#000"/>
<polygon points="932.50,498.00 930.30,490.00 934.70,490.00" fill="#000"/>
<line x1="877" y1="252.4" x2="936" y2="252.4" stroke="#333" stroke-width="1" />
<text x="911" y="385" font-size="15.5" text-anchor="middle" fill="#000" stroke="#fff" stroke-width="0.22" textLength="70" lengthAdjust="spacingAndGlyphs" transform="rotate(-90 911 385)">min 38cm</text>
<text x="929" y="384.5" font-size="15.5" text-anchor="middle" fill="#000" stroke="#fff" stroke-width="0.22" textLength="82" lengthAdjust="spacingAndGlyphs" transform="rotate(-90 929 384.5)">max 171cm</text>
<line x1="22.5" y1="563" x2="22.5" y2="857" stroke="#333" stroke-width="1" />
<polygon points="22.50,561.30 24.70,569.30 20.30,569.30" fill="#000"/>
<polygon points="22.50,858.80 20.30,850.80 24.70,850.80" fill="#000"/>
<line x1="18" y1="561.3" x2="177" y2="561.3" stroke="#333" stroke-width="1" />
<line x1="18" y1="858.8" x2="40" y2="858.8" stroke="#333" stroke-width="1" />
<text x="19" y="721" font-size="15.5" text-anchor="middle" fill="#000" stroke="#fff" stroke-width="0.22" textLength="46" lengthAdjust="spacingAndGlyphs" transform="rotate(-90 19 721)">140cm</text>
<g id="th">
<path d="M172,569.8 L180.8,561 L190.4,569 L182.4,579.4 Z" fill="#fff" stroke="#000" stroke-width="1.3" />
<path d="M190.4,569 L211.2,588.2 L218.4,588.2 M182.4,579.4 L206.4,598.6" fill="none" stroke="#000" stroke-width="1.3" />
<circle cx="190.5" cy="578" r="1.2" fill="#fff" stroke="#000" stroke-width="1.0"/>
<path d="M218.4,588.2 L241,588.2 M206,598.6 L241,598.6 M218.4,588.2 L218.4,598.6" fill="none" stroke="#000" stroke-width="1.3" />
<circle cx="230.4" cy="593.2" r="3" fill="#fff" stroke="#000" stroke-width="1.3"/>
<rect x="228.2" y="585.3" width="5" height="3" rx="1" fill="#fff" stroke="#000" stroke-width="1.2"/>
<rect x="235.5" y="585.3" width="5" height="3" rx="1" fill="#fff" stroke="#000" stroke-width="1.2"/>
<path d="M182.4,599.4 L241,599.4 M182.4,605 L241,605 M182.4,599.4 L182.4,605" fill="none" stroke="#000" stroke-width="1.2" />
<rect x="191.6" y="598.8" width="2.6" height="7" rx="0" fill="#000" stroke="#000" stroke-width="1"/>
<path d="M192.5,606 L190.5,611 Q191,615.5 194,614.5 L193.8,606" fill="none" stroke="#000" stroke-width="1.4" />
<line x1="235.3" y1="598.6" x2="235.3" y2="750" stroke="#000" stroke-width="1.7" />
<path d="M224.5,600.5 L234.7,600.5 L234.5,624 L232,624 Z" fill="#222"/>
<path d="M227,602 L233,620 M230,601 L234,612" fill="none" stroke="#fff" stroke-width="1.0" />
<rect x="222.8" y="599.6" width="3" height="5.6" rx="0" fill="#fff" stroke="#000" stroke-width="1.0"/>
<ellipse cx="231.2" cy="634" rx="3" ry="10.5" fill="#fff" stroke="#000" stroke-width="1.2"/>
<ellipse cx="231.2" cy="655" rx="3" ry="10.5" fill="#fff" stroke="#000" stroke-width="1.2"/>
<path d="M230,625 L229,644 M230,645 L229,664" fill="none" stroke="#000" stroke-width="2.0" />
<path d="M226,667 L233,665 L234,684 L228,684 Q223,676 226,667 Z" fill="none" stroke="#000" stroke-width="1.4" />
<path d="M228,670 L232,682" fill="none" stroke="#000" stroke-width="1.8" />
<path d="M234.5,684.4 L95.2,799.6" fill="none" stroke="#000" stroke-width="1.4" />
<path d="M233.5,699 L104.8,807.6" fill="none" stroke="#000" stroke-width="1.4" />
<path d="M233,700 L176,748.3 L113.6,807.6" fill="none" stroke="#000" stroke-width="1.7" />
<circle cx="164" cy="742" r="1.5" fill="#000"/>
<path d="M78,826 L84,806 L96,798 L106,808 L110,817 L98,826 L86,829 Z" fill="#fff" stroke="#000" stroke-width="1.3" />
<circle cx="96.8" cy="806" r="2.5" fill="#fff" stroke="#000" stroke-width="1.4"/>
<circle cx="80.8" cy="819.6" r="2.5" fill="#fff" stroke="#000" stroke-width="1.4"/>
<circle cx="92" cy="799.5" r="1.8" fill="#fff" stroke="#000" stroke-width="1.2"/>
<circle cx="76.5" cy="813.5" r="1.8" fill="#fff" stroke="#000" stroke-width="1.2"/>
<path d="M75,806 L80,799 L85,799 L85.6,804 L83,808 Z" fill="#fff" stroke="#000" stroke-width="1.3" />
<line x1="85" y1="806" x2="88" y2="810" stroke="#000" stroke-width="1.8" />
<path d="M47.6,839.6 L73,820 M55.6,849.2 L79,828" fill="none" stroke="#000" stroke-width="1.3" />
<path d="M70,822 L76,818 L82,827 L76,831 Z" fill="#fff" stroke="#000" stroke-width="1.3" />
<circle cx="54" cy="842.5" r="1.3" fill="#fff" stroke="#000" stroke-width="1.0"/>
<path d="M36.4,847.6 L47.6,839.6 L55.6,849.2 L44.4,858.8 Z" fill="#fff" stroke="#000" stroke-width="1.3" />
<line x1="85.2" y1="810.4" x2="241" y2="810.4" stroke="#000" stroke-width="1.3" />
<line x1="85.2" y1="820.8" x2="241" y2="820.8" stroke="#000" stroke-width="1.3" />
<line x1="85.2" y1="810.4" x2="85.2" y2="820.8" stroke="#000" stroke-width="1.3" />
<line x1="142.7" y1="810.4" x2="142.7" y2="820.8" stroke="#000" stroke-width="1.1" />
<path d="M129.6,826.7 L241,826.7 M129.6,832.7 L241,832.7 M129.6,826.7 A3,3 0 0 0 129.6,832.7" fill="none" stroke="#000" stroke-width="1.2" />
<line x1="149.7" y1="826.7" x2="149.7" y2="832.7" stroke="#000" stroke-width="1.0" />
<path d="M158.8,820.8 L158.8,850.5 Q158.8,853.7 162,853.7 Q165.1,853.7 165.1,850.5 L165.1,820.8" fill="none" stroke="#000" stroke-width="1.2" />
<path d="M124,851.2 L182.4,851.2 Q192.4,851.2 192.4,841 L192.4,820.8" fill="none" stroke="#000" stroke-width="1.3" />
<path d="M124,857.2 L183,857.2 Q199.4,857.2 199.4,838 L199.4,820.8" fill="none" stroke="#000" stroke-width="1.3" />
<path d="M93,828 L102,820 L121,843 L112,851 Z" fill="#fff" stroke="#000" stroke-width="1.4" />
<line x1="99" y1="828" x2="114" y2="846" stroke="#000" stroke-width="1.6" />
<line x1="101.5" y1="826" x2="116.5" y2="844" stroke="#000" stroke-width="1.6" />
<line x1="96.5" y1="830" x2="111.5" y2="848" stroke="#000" stroke-width="1.2" />
<line x1="104" y1="824" x2="119" y2="842" stroke="#000" stroke-width="1.2" />
<circle cx="114.5" cy="845" r="4.5" fill="#fff" stroke="#000" stroke-width="1.4"/>
<path d="M108.5,863 L131,843.5 L136,848.5 L113.5,868 Z" fill="#fff" stroke="#000" stroke-width="1.3" />
<path d="M114,850 L119,846 L131,860 L126,864 Z" fill="#fff" stroke="#000" stroke-width="1.3" />
<line x1="119" y1="853" x2="125" y2="859" stroke="#000" stroke-width="2.2" />
<path d="M202,767 Q202,761.6 208,761.6 L228,761.6 L228,770 L234,770 L234,790.4 L202,790.4 Z" fill="#fff" stroke="#000" stroke-width="1.3" />
<rect x="211" y="774.4" width="16.6" height="3.2" rx="0" fill="#fff" stroke="#000" stroke-width="1.1"/>
<rect x="211" y="782.4" width="16.6" height="3.2" rx="0" fill="#fff" stroke="#000" stroke-width="1.1"/>
<line x1="215" y1="763.3" x2="228" y2="763.3" stroke="#000" stroke-width="1.1" />
<line x1="215" y1="766" x2="228" y2="766" stroke="#000" stroke-width="1.1" />
<line x1="215" y1="768.7" x2="228" y2="768.7" stroke="#000" stroke-width="1.1" />
<line x1="36" y1="860" x2="36" y2="960" stroke="#333" stroke-width="1" />
<line x1="123.8" y1="858" x2="123.8" y2="931" stroke="#333" stroke-width="1" />
<line x1="165.1" y1="855" x2="165.1" y2="909" stroke="#333" stroke-width="1" />
<line x1="199.4" y1="855" x2="199.4" y2="889" stroke="#333" stroke-width="1" />
<line x1="158.8" y1="792" x2="158.8" y2="810" stroke="#555" stroke-width="0.9" />
<line x1="165.1" y1="792" x2="165.1" y2="810" stroke="#555" stroke-width="0.9" />
</g>
<use href="#th" transform="translate(481.6,0) scale(-1,1)"/>
<circle cx="240.4" cy="654.4" r="2.0" fill="#000"/>
<rect x="232.8" y="738" width="16" height="11" rx="0" fill="#fff" stroke="#000" stroke-width="1.6"/>
<rect x="235.5" y="749" width="11.2" height="21" rx="0" fill="#fff" stroke="#000" stroke-width="1.3"/>
<ellipse cx="238.4" cy="759" rx="2.3" ry="5" fill="#fff" stroke="#000" stroke-width="1.2"/>
<ellipse cx="243.6" cy="759" rx="2.3" ry="5" fill="#fff" stroke="#000" stroke-width="1.2"/>
<line x1="241" y1="749" x2="241" y2="770" stroke="#000" stroke-width="2.0" />
<circle cx="240.5" cy="775" r="4" fill="#fff" stroke="#000" stroke-width="1.4"/>
<path d="M238,773 L243,777 M238,777 L243,773" fill="none" stroke="#000" stroke-width="1.0" />
<line x1="240.5" y1="779" x2="240.5" y2="794" stroke="#000" stroke-width="1.2" />
<rect x="234.5" y="794" width="13" height="15.5" rx="2.5" fill="#fff" stroke="#000" stroke-width="1.5"/>
<rect x="238.5" y="802.5" width="4" height="4" rx="0" fill="#fff" stroke="#000" stroke-width="1.2"/>
<path d="M228,830 L228,822 L236,809.5 L246.5,809.5 L254,822 L254,830 L248.5,830 L248.5,824 Q240.5,819 232.5,824 L232.5,830 Z" fill="#fff" stroke="#000" stroke-width="1.4" />
<circle cx="240.5" cy="814.5" r="2" fill="#000" stroke="#000" stroke-width="0.6"/>
<path d="M237,826 L244,826 L244,830 L246,832 L243,835 L238,835 L235,832 L237,830 Z" fill="#000" stroke="#000" stroke-width="0.8" />
<rect x="239" y="823" width="3" height="3" rx="0" fill="#fff" stroke="#000" stroke-width="0.5"/>
<line x1="192.8" y1="563.4" x2="213.6" y2="563.4" stroke="#333" stroke-width="1" />
<line x1="190" y1="575" x2="193.5" y2="566" stroke="#000" stroke-width="1.6" />
<text x="238" y="568" font-size="15.5" text-anchor="middle" fill="#000" stroke="#fff" stroke-width="0.22" textLength="37" lengthAdjust="spacingAndGlyphs">1,1cm</text>
<line x1="343.7" y1="532.6" x2="343.7" y2="624.3" stroke="#333" stroke-width="1" />
<polygon points="343.70,599.60 341.50,591.60 345.90,591.60" fill="#000"/>
<polygon points="343.70,604.90 345.90,612.90 341.50,612.90" fill="#000"/>
<line x1="301" y1="599.8" x2="347" y2="599.8" stroke="#333" stroke-width="1" />
<line x1="301" y1="604.7" x2="347" y2="604.7" stroke="#333" stroke-width="1" />
<g transform="rotate(-90 335.8 588)"><circle cx="335.8" cy="588" r="5.2" fill="none" stroke="#000" stroke-width="1.3"/><line x1="333.1" y1="594.5" x2="338.5" y2="581.5" stroke="#000" stroke-width="1.3"/></g>
<text x="340.5" y="559" font-size="15.5" text-anchor="middle" fill="#000" stroke="#fff" stroke-width="0.22" textLength="43" lengthAdjust="spacingAndGlyphs" transform="rotate(-90 340.5 559)">2,5cm</text>
<line x1="258.4" y1="608" x2="258.4" y2="648" stroke="#333" stroke-width="1" />
<line x1="298.2" y1="608" x2="298.2" y2="648" stroke="#333" stroke-width="1" />
<line x1="258.4" y1="644.6" x2="348.6" y2="644.6" stroke="#333" stroke-width="1" />
<polygon points="258.60,644.60 266.60,642.40 266.60,646.80" fill="#000"/>
<polygon points="298.00,644.60 290.00,646.80 290.00,642.40" fill="#000"/>
<text x="325" y="642" font-size="15.5" text-anchor="middle" fill="#000" stroke="#fff" stroke-width="0.22" textLength="37.5" lengthAdjust="spacingAndGlyphs">19cm</text>
<line x1="138" y1="801" x2="216" y2="801" stroke="#333" stroke-width="1" />
<polygon points="158.80,801.00 150.80,803.20 150.80,798.80" fill="#000"/>
<polygon points="165.20,801.00 173.20,798.80 173.20,803.20" fill="#000"/>
<g><circle cx="161.6" cy="792.8" r="5.2" fill="none" stroke="#000" stroke-width="1.3"/><line x1="158.9" y1="799.3" x2="164.29999999999998" y2="786.3" stroke="#000" stroke-width="1.3"/></g>
<text x="170" y="798" font-size="15.5" text-anchor="start" fill="#000" stroke="#fff" stroke-width="0.22" textLength="30.4" lengthAdjust="spacingAndGlyphs">3cm</text>
<line x1="304.9" y1="757.6" x2="304.9" y2="850.5" stroke="#333" stroke-width="1" />
<polygon points="304.90,824.80 302.70,816.80 307.10,816.80" fill="#000"/>
<polygon points="304.90,850.40 307.10,858.40 302.70,858.40" fill="#000"/>
<text x="302" y="781" font-size="15.5" text-anchor="middle" fill="#000" stroke="#fff" stroke-width="0.22" textLength="37" lengthAdjust="spacingAndGlyphs" transform="rotate(-90 302 781)">14cm</text>
<line x1="179" y1="885" x2="302.5" y2="885" stroke="#333" stroke-width="1" />
<polygon points="199.00,885.00 191.00,887.20 191.00,882.80" fill="#000"/>
<polygon points="283.00,885.00 291.00,882.80 291.00,887.20" fill="#000"/>
<text x="246.5" y="882" font-size="15.5" text-anchor="middle" fill="#000" stroke="#fff" stroke-width="0.22" textLength="39" lengthAdjust="spacingAndGlyphs">39cm</text>
<line x1="165.4" y1="905.5" x2="316.6" y2="905.5" stroke="#333" stroke-width="1" />
<polygon points="165.40,905.50 173.40,903.30 173.40,907.70" fill="#000"/>
<polygon points="316.60,905.50 308.60,907.70 308.60,903.30" fill="#000"/>
<text x="241.25" y="902" font-size="15.5" text-anchor="middle" fill="#000" stroke="#fff" stroke-width="0.22" textLength="38.5" lengthAdjust="spacingAndGlyphs">71cm</text>
<line x1="123.8" y1="928" x2="358" y2="928" stroke="#333" stroke-width="1" />
<polygon points="123.80,928.00 131.80,925.80 131.80,930.20" fill="#000"/>
<polygon points="357.80,928.00 349.80,930.20 349.80,925.80" fill="#000"/>
<text x="247.25" y="924.5" font-size="15.5" text-anchor="middle" fill="#000" stroke="#fff" stroke-width="0.22" textLength="45.5" lengthAdjust="spacingAndGlyphs">111cm</text>
<line x1="36.2" y1="956.5" x2="445" y2="956.5" stroke="#333" stroke-width="1" />
<polygon points="36.20,956.50 44.20,954.30 44.20,958.70" fill="#000"/>
<polygon points="445.00,956.50 437.00,958.70 437.00,954.30" fill="#000"/>
<text x="241.5" y="952.5" font-size="15.5" text-anchor="middle" fill="#000" stroke="#fff" stroke-width="0.22" textLength="46" lengthAdjust="spacingAndGlyphs">193cm</text>
<rect x="630" y="623.5" width="30" height="30" rx="0" fill="#fff" stroke="#000" stroke-width="1.4"/>
<rect x="632.5" y="626" width="25" height="25" rx="0" fill="#fff" stroke="#000" stroke-width="1.0"/>
<text x="678" y="646" font-size="19" text-anchor="start" fill="#000" stroke="#fff" stroke-width="0.22" textLength="82" lengthAdjust="spacingAndGlyphs">50x50x2</text>
<path d="M626.9,679.1 L666.2,679.1 L664.6,684.9 L629.1,684.9 Z" fill="#000"/>
<rect x="643.9" y="684" width="6.1" height="6" fill="#000"/>
<path d="M634.8,689 L659,689 Q660.6,689 660.9,690.6 L665.9,716 Q666.3,718.4 664,718.4 L629.2,718.4 Q626.9,718.4 627.3,716 L632.6,690.6 Q633,689 634.8,689 Z" fill="#000"/>
<path d="M634,704.4 Q647,693.3 659.9,704.4 L653.6,708 Q647,702.3 640.4,708 Z" fill="#fff"/>
<line x1="639" y1="701.5" x2="641.8" y2="707.5" stroke="#000" stroke-width="1.3"/>
<circle cx="646.7" cy="712.4" r="1.4" fill="#fff"/>
<text x="678" y="711" font-size="19" text-anchor="start" fill="#000" stroke="#fff" stroke-width="0.22" textLength="56" lengthAdjust="spacingAndGlyphs">70 kg</text>
<rect x="628.7" y="748.4" width="38.5" height="38.8" rx="1.5" fill="#fff" stroke="#000" stroke-width="3"/>
<rect x="632.4" y="753.2" width="3.6" height="13.5" fill="#000"/><rect x="629.9" y="755" width="2.6" height="9.8" fill="#333"/>
<rect x="659.3" y="753.2" width="3.6" height="13.5" fill="#000"/><rect x="662.9" y="755" width="2.4" height="9.8" fill="#333"/>
<rect x="636" y="758.7" width="23.3" height="2.3" fill="#000"/>
<path d="M636.5,760.9 L641,760.9 L644.8,771.5 L650.5,771.5 L654.3,760.9 L658.8,760.9 L653.2,774 L653,783 L642.2,783 L642,774 Z" fill="#000"/>
<circle cx="647.6" cy="766.8" r="5.3" fill="#fff"/><circle cx="647.6" cy="766.8" r="4.4" fill="#000"/>
<text x="678" y="777" font-size="19" text-anchor="start" fill="#000" stroke="#fff" stroke-width="0.22" textLength="63" lengthAdjust="spacingAndGlyphs">120kg</text>
</svg></body></html>
